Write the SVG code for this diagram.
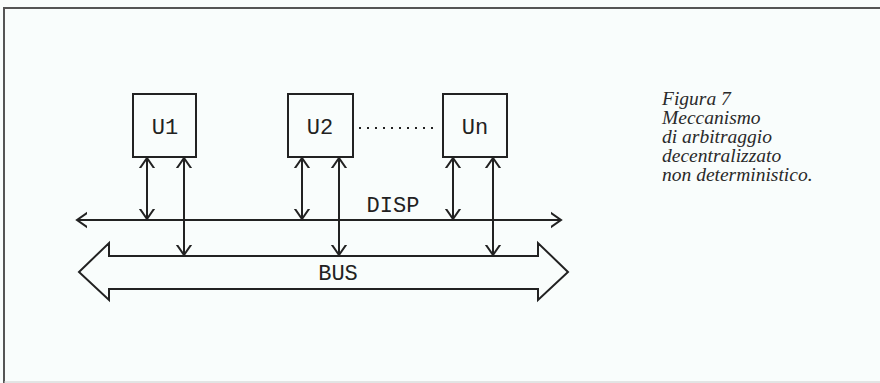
<svg xmlns="http://www.w3.org/2000/svg" width="880" height="383" viewBox="0 0 880 383">
<defs>
<marker id="open" viewBox="0 0 20 20" refX="10" refY="10" markerWidth="20" markerHeight="20" markerUnits="userSpaceOnUse" orient="auto-start-reverse">
<path d="M-3,1 L10,10 L-3,19" fill="none" stroke="#222" stroke-width="2"/>
</marker>
</defs>
<style>
.box{fill:none;stroke:#222;stroke-width:2}
.lbl{font-family:"Liberation Mono","DejaVu Sans Mono",monospace;font-size:22px;fill:#222;text-anchor:middle}
.ln{stroke:#222;stroke-width:2;fill:none}
.cap{font-family:"Liberation Serif","DejaVu Serif",serif;font-style:italic;font-size:19.5px;fill:#2a2a2a}
</style>
<rect x="0" y="0" width="880" height="383" fill="#f9fdfc"/>
<path d="M4,383 V8 H880" fill="none" stroke="#555" stroke-width="2"/>
<line x1="4" y1="382" x2="880" y2="382" stroke="#ccc" stroke-width="1"/>
<g id="U1"><rect class="box" x="133" y="94" width="63" height="63"/><text class="lbl" x="165" y="134">U1</text></g>
<g id="U2"><rect class="box" x="288" y="94" width="65" height="63"/><text class="lbl" x="320" y="134">U2</text></g>
<g id="Un"><rect class="box" x="443" y="94" width="64" height="63"/><text class="lbl" x="475" y="134">Un</text></g>
<g id="DISP"><line class="ln" x1="77" y1="220" x2="561" y2="220" marker-start="url(#open)" marker-end="url(#open)"/><text class="lbl" x="393" y="212">DISP</text></g>
<g id="BUS"><path class="ln" d="M79,272 L109,243 L109,256 L538,256 L538,243 L568,272 L538,300 L538,289 L109,289 L109,300 Z" stroke-linejoin="miter"/><text class="lbl" x="338" y="280">BUS</text></g>
<g id="connectors">
<line class="ln" x1="147" y1="158" x2="147" y2="219" marker-start="url(#open)" marker-end="url(#open)"/>
<line class="ln" x1="184" y1="158" x2="184" y2="255" marker-start="url(#open)" marker-end="url(#open)"/>
<line class="ln" x1="302" y1="158" x2="302" y2="219" marker-start="url(#open)" marker-end="url(#open)"/>
<line class="ln" x1="339" y1="158" x2="339" y2="255" marker-start="url(#open)" marker-end="url(#open)"/>
<line class="ln" x1="453" y1="158" x2="453" y2="219" marker-start="url(#open)" marker-end="url(#open)"/>
<line class="ln" x1="493" y1="158" x2="493" y2="255" marker-start="url(#open)" marker-end="url(#open)"/>
<line x1="359" y1="128" x2="438" y2="128" stroke="#222" stroke-width="2" stroke-dasharray="2 6"/>
</g>
<g id="caption">
<text class="cap" x="662" y="105">Figura 7</text>
<text class="cap" x="662" y="124">Meccanismo</text>
<text class="cap" x="662" y="143">di arbitraggio</text>
<text class="cap" x="662" y="162">decentralizzato</text>
<text class="cap" x="662" y="181">non deterministico.</text>
</g>
</svg>
